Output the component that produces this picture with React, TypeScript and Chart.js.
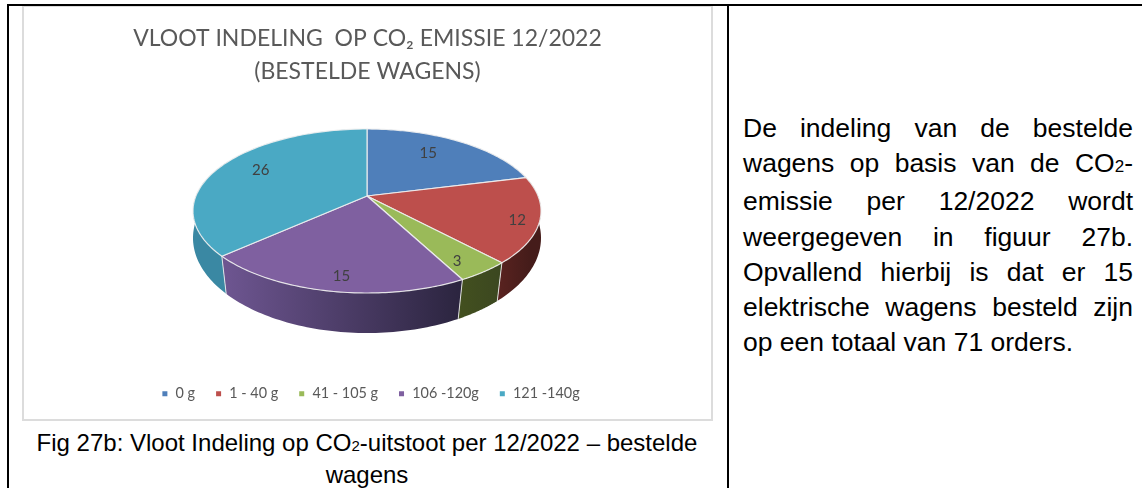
import React, { useEffect, useRef } from "react";
import { Chart, registerables } from "chart.js";

Chart.register(...registerables);

const categories = ["0 g", "1 - 40 g", "41 - 105 g", "106 -120g", "121 -140g"];
const orders = [15, 12, 3, 15, 26];
const topColors = ["#4f7fba", "#bd4f4c", "#9aba59", "#7f60a0", "#4aa9c4"];
const labelRadius = [0.72, 0.88, 0.85, 0.86, 0.75];
const labelTurn = [-0.08, 0.04, 0.05, -0.03, 0.07];
const titleLines = ["VLOOT INDELING  OP CO₂ EMISSIE 12/2022", "(BESTELDE WAGENS)"];

// canvas offset on the page
const CX0 = 24;
const CY0 = 9;
const cx = 367 - CX0;
const topC = 211 - CY0;
const botC = 238 - CY0;

function proj(alpha: number, r: number, rx: number, ry: number, cy: number, drop: number) {
  const k = drop / ry;
  const a = rx * Math.sqrt(1 - k * k);
  const u = r * Math.cos(alpha);
  const v = r * Math.sin(alpha);
  const d = 1 + k * v;
  return { x: cx + (a * u) / d, y: cy + (ry * v + drop) / d };
}
const top = (al: number, r = 1) => proj(al, r, 174, 82, topC, -15);
const bot = (al: number) => proj(al, 1, 174, 95, botC, -12.4);

const pie3d = {
  id: "pie3d",
  afterLayout(chart: any) {
    // the legend sits slightly right of the title in the reference
    chart.legend.left += 3;
    chart.legend.right += 3;
  },
  beforeDatasetsDraw(chart: any) {
    const ctx: CanvasRenderingContext2D = chart.ctx;
    const arcs = chart.getDatasetMeta(0).data;
    const lo = -0.5;
    const hi = Math.PI + 0.5;
    const wallStops: string[][] = [
      ["#3f5f8f", "#3f5f8f"],
      ["#5a2320", "#451c1a"],
      ["#43501f", "#3c4820"],
      ["#6d5590", "#2c2540"],
      ["#3a88a3", "#4596ae"],
    ];
    arcs.forEach((arc: any, i: number) => {
      const s = Math.max(arc.startAngle, lo);
      const e = Math.min(arc.endAngle, hi);
      if (e <= s) return;
      const p0 = bot(e);
      const p1 = bot(s);
      const g = ctx.createLinearGradient(Math.min(p0.x, p1.x), 0, Math.max(p0.x, p1.x), 0);
      g.addColorStop(0, wallStops[i][0]);
      g.addColorStop(1, wallStops[i][1]);
      ctx.beginPath();
      const n = 60;
      for (let j = 0; j <= n; j++) {
        const p = top(s + ((e - s) * j) / n);
        j ? ctx.lineTo(p.x, p.y) : ctx.moveTo(p.x, p.y);
      }
      for (let j = n; j >= 0; j--) {
        const p = bot(s + ((e - s) * j) / n);
        ctx.lineTo(p.x, p.y);
      }
      ctx.closePath();
      ctx.fillStyle = g;
      ctx.fill();
    });
    // wall edges
    arcs.forEach((arc: any) => {
      const al = arc.endAngle;
      if (al > 0 && al < Math.PI) {
        const a = top(al);
        const b = bot(al);
        ctx.beginPath();
        ctx.moveTo(a.x, a.y);
        ctx.lineTo(b.x, b.y);
        ctx.strokeStyle = "rgba(235,235,235,0.9)";
        ctx.lineWidth = 1;
        ctx.stroke();
      }
    });
    // top face
    arcs.forEach((arc: any, i: number) => {
      const n = 80;
      const apex = top(0, 0);
      ctx.beginPath();
      ctx.moveTo(apex.x, apex.y);
      for (let j = 0; j <= n; j++) {
        const p = top(arc.startAngle + ((arc.endAngle - arc.startAngle) * j) / n);
        ctx.lineTo(p.x, p.y);
      }
      ctx.closePath();
      ctx.fillStyle = topColors[i];
      ctx.fill();
      ctx.strokeStyle = "rgba(240,240,240,0.9)";
      ctx.lineWidth = 1.2;
      ctx.lineJoin = "round";
      ctx.stroke();
    });
    // value labels
    ctx.font = "15px Lato";
    ctx.fillStyle = "#404040";
    ctx.textAlign = "center";
    ctx.textBaseline = "middle";
    arcs.forEach((arc: any, i: number) => {
      const mid = (arc.startAngle + arc.endAngle) / 2 + labelTurn[i];
      const p = top(mid, labelRadius[i]);
      ctx.fillText(String(orders[i]), p.x, p.y);
    });
    return false;
  },
};

export default function App() {
  const ref = useRef<HTMLCanvasElement>(null);
  useEffect(() => {
    const chart = new Chart(ref.current!, {
      type: "pie",
      data: {
        labels: categories,
        datasets: [{ data: orders, backgroundColor: topColors, borderColor: "#ffffff" }],
      },
      options: {
        animation: false,
        responsive: false,
        events: [],
        layout: { padding: { left: 0, right: 0, top: 0, bottom: 8 } },
        plugins: {
          tooltip: { enabled: false },
          title: {
            display: true,
            text: titleLines,
            color: "#595959",
            font: { family: "Lato", size: 23, weight: "normal", lineHeight: 1.43 },
            padding: { top: 13, bottom: 10 },
          },
          legend: {
            position: "bottom",
            labels: {
              color: "#595959",
              font: { family: "Lato", size: 14.4 },
              usePointStyle: true,
              pointStyle: "rect",
              boxWidth: 7,
              boxHeight: 7,
              padding: 20,
            },
          },
        },
      },
      plugins: [pie3d],
    } as any);
    return () => chart.destroy();
  }, []);

  const black = "#000000";
  const abs = (l: number, t: number, w: number, h: number, extra: any = {}) => ({
    position: "absolute" as const,
    left: l,
    top: t,
    width: w,
    height: h,
    ...extra,
  });
  const sans = '"Liberation Sans", Arial, sans-serif';
  return (
    <div style={abs(0, 0, 1142, 488, { background: "#fff", overflow: "hidden" })}>
      <div style={abs(22, 5, 687, 412, { border: "2px solid #dcdcdc" })} />
      <div style={abs(7, 4, 1135, 2, { background: black })} />
      <div style={abs(7, 4, 2, 484, { background: black })} />
      <div style={abs(727, 4, 2, 484, { background: black })} />
      <canvas ref={ref} width={687} height={410} style={abs(CX0, CY0, 687, 410, { display: "block" })} />
      <div
        style={abs(14, 428, 706, 60, {
          fontFamily: sans,
          fontSize: 24,
          lineHeight: "29px",
          textAlign: "center",
          color: "#000",
        })}
      >
        Fig 27b: Vloot Indeling op CO<span style={{ fontSize: 15 }}>2</span>-uitstoot per 12/2022 – bestelde wagens
      </div>
      <div
        style={abs(743, 111, 390, 260, {
          fontFamily: sans,
          fontSize: 26.5,
          lineHeight: "35.2px",
          textAlign: "justify",
          color: "#000",
        })}
      >
        De indeling van de bestelde wagens op basis van de CO<span style={{ fontSize: 17 }}>2</span>-emissie per 12/2022 wordt
        weergegeven in figuur 27b. Opvallend hierbij is dat er 15 elektrische wagens besteld zijn op een totaal van 71
        orders.
      </div>
    </div>
  );
}
